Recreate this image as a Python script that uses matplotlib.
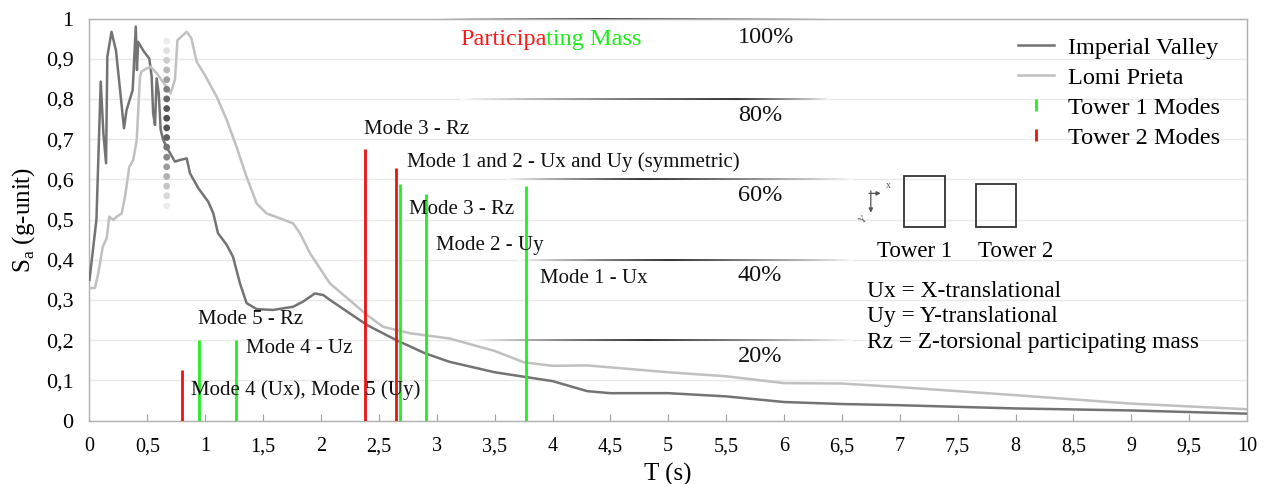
import numpy as np
import matplotlib
matplotlib.use("Agg")
import matplotlib.pyplot as plt
from matplotlib.lines import Line2D
from matplotlib.patches import Rectangle
from matplotlib.collections import LineCollection

plt.rcParams['font.family'] = ['Liberation Serif', 'DejaVu Serif']
plt.rcParams['mathtext.fontset'] = 'custom'
plt.rcParams['mathtext.rm'] = 'Liberation Serif'

# ---------------- data ----------------
iv_T = [0.0, 0.06, 0.097, 0.12, 0.143, 0.154, 0.19, 0.229, 0.298, 0.32, 0.373, 0.40, 0.41,
        0.42, 0.465, 0.517, 0.537, 0.55, 0.566, 0.58, 0.598, 0.615, 0.637, 0.68, 0.738,
        0.78, 0.84, 0.868, 0.94, 1.026, 1.07, 1.11, 1.185, 1.24, 1.30, 1.357, 1.444,
        1.587, 1.76, 1.846, 1.947, 2.02, 2.077, 2.4, 2.65, 2.9, 3.11, 3.5, 4.0, 4.3,
        4.5, 5.0, 5.5, 6.0, 6.5, 7.0, 8.0, 9.0, 10.0]
iv_Sa = [0.35, 0.50, 0.843, 0.714, 0.64, 0.905, 0.967, 0.92, 0.727, 0.772, 0.822, 0.98, 0.872,
         0.942, 0.92, 0.90, 0.855, 0.764, 0.735, 0.851, 0.814, 0.723, 0.698, 0.673, 0.644,
         0.648, 0.652, 0.615, 0.578, 0.544, 0.515, 0.466, 0.437, 0.407, 0.341, 0.292, 0.277,
         0.275, 0.283, 0.296, 0.316, 0.312, 0.30, 0.237, 0.20, 0.167, 0.146, 0.12, 0.098, 0.073,
         0.068, 0.068, 0.06, 0.046, 0.041, 0.038, 0.03, 0.025, 0.017]

lp_T = [0.0, 0.047, 0.076, 0.114, 0.148, 0.171, 0.206, 0.235, 0.278, 0.307, 0.344, 0.378,
        0.408, 0.436, 0.45, 0.494, 0.528, 0.58, 0.652, 0.70, 0.738, 0.76, 0.84, 0.88, 0.925,
        0.997, 1.10, 1.185, 1.27, 1.357, 1.444, 1.53, 1.645, 1.76, 1.818, 1.905, 2.02, 2.077,
        2.4, 2.537, 2.77, 3.11, 3.5, 3.75, 4.0, 4.3, 5.0, 5.5, 6.0, 6.5, 7.0, 8.0, 9.0, 10.0]
lp_Sa = [0.329, 0.33, 0.366, 0.432, 0.453, 0.507, 0.499, 0.507, 0.515, 0.557, 0.631, 0.648,
         0.698, 0.855, 0.868, 0.876, 0.880, 0.864, 0.835, 0.814, 0.847, 0.946, 0.967, 0.951, 0.893,
         0.859, 0.805, 0.748, 0.681, 0.606, 0.54, 0.515, 0.503, 0.49, 0.466, 0.416, 0.366, 0.341,
         0.262, 0.233, 0.217, 0.204, 0.173, 0.145, 0.136, 0.137, 0.12, 0.11, 0.093, 0.092, 0.083,
         0.063, 0.042, 0.028]

tower1_T = [0.946, 1.268, 2.684, 2.903, 3.775]
tower1_Sa = [0.20, 0.20, 0.588, 0.564, 0.583]
tower2_T = [0.80, 2.38, 2.645]
tower2_Sa = [0.125, 0.675, 0.627]

# dotted marker column (period ~0.67 s)
dots_T = 0.667
dots_Sa = [0.944, 0.920, 0.896, 0.872, 0.848, 0.824, 0.800, 0.776, 0.752, 0.728,
           0.704, 0.680, 0.655, 0.631, 0.607, 0.583, 0.559, 0.534]
dots_gray = [0.93, 0.88, 0.80, 0.72, 0.62, 0.50, 0.40, 0.34, 0.31, 0.33,
             0.38, 0.45, 0.53, 0.61, 0.69, 0.77, 0.85, 0.92]

mass_levels = [1.0, 0.8, 0.6, 0.4, 0.2]
mass_labels = ['100%', '80%', '60%', '40%', '20%']
mass_label_y = [0.953, 0.758, 0.56, 0.36, 0.16]

mode_labels = ['Mode 3 - Rz', 'Mode 1 and 2 - Ux and Uy (symmetric)', 'Mode 3 - Rz',
               'Mode 2 - Uy', 'Mode 1 - Ux', 'Mode 5 - Rz', 'Mode 4 - Uz',
               'Mode 4 (Ux), Mode 5 (Uy)']
mode_label_pos = [(2.37, 0.723), (2.74, 0.643), (2.76, 0.524), (2.99, 0.435),
                  (3.89, 0.354), (0.934, 0.252), (1.349, 0.18), (0.874, 0.076)]

x_ticks = [0, 0.5, 1, 1.5, 2, 2.5, 3, 3.5, 4, 4.5, 5, 5.5, 6, 6.5, 7, 7.5, 8, 8.5, 9, 9.5, 10]
y_ticks = [0, 0.1, 0.2, 0.3, 0.4, 0.5, 0.6, 0.7, 0.8, 0.9, 1.0]

def fmt(v):
    return ('%g' % v).replace('.', ',')

# ---------------- figure ----------------
fig = plt.figure(figsize=(12.65, 4.84), dpi=100)
ax = fig.add_axes([89.5 / 1265, 63.5 / 484, 1157.5 / 1265, 402 / 484])
ax.set_xlim(0, 10)
ax.set_ylim(0, 1)

ax.set_yticks(y_ticks)
ax.set_yticklabels([fmt(v) for v in y_ticks])
ax.set_xticks(x_ticks)
ax.set_xticklabels([fmt(v) for v in x_ticks])
ax.tick_params(axis='x', direction='in', length=5, color='#a0a0a0', pad=12, labelsize=14.5)
ax.tick_params(axis='y', length=0, pad=11.5, labelsize=16)
for s in ax.spines.values():
    s.set_color('#b0b0b0')
    s.set_linewidth(1.0)
ax.grid(axis='y', color='#e9e9e9', linewidth=1.0)
ax.set_axisbelow(True)

ax.set_xlabel('T (s)', fontsize=18, labelpad=5)
ax.set_ylabel(r'S$_\mathregular{a}$ (g-unit)', fontsize=18, labelpad=6)

# gradient "participating mass" lines
def grad_line(y, x0, x1, peak, dark=0.2):
    xs = np.linspace(x0, x1, 120)
    segs = [[(xs[i], y), (xs[i + 1], y)] for i in range(len(xs) - 1)]
    cols = []
    for i in range(len(xs) - 1):
        xm = 0.5 * (xs[i] + xs[i + 1])
        if xm < peak:
            t = (xm - x0) / (peak - x0)
        else:
            t = (x1 - xm) / (x1 - peak)
        g = 1 - (1 - dark) * np.clip(t, 0, 1) ** 0.8
        cols.append((g, g, g))
    lc = LineCollection(segs, colors=cols, linewidths=1.4, zorder=2, clip_on=False)
    ax.add_collection(lc)

grad_params = [(3.0, 6.4, 4.4), (3.2, 6.4, 5.6), (3.6, 6.6, 4.8), (3.7, 6.6, 5.0), (3.3, 6.6, 4.8)]
for lvl, (x0, x1, pk) in zip(mass_levels, grad_params):
    grad_line(lvl, x0, x1, pk)
for ly, lab in zip(mass_label_y, mass_labels):
    ax.text(5.6, ly, lab, fontsize=17.5, va='center', ha='left', color='#111111')

t1 = ax.text(3.2, 0.947, 'Participa', color='#ff1a1a', fontsize=17.5, va='center', ha='left')
ax.annotate('ting Mass', xy=(1, 0), xycoords=t1, va='bottom', ha='left',
            color='#1aee1a', fontsize=17.5)

# curves
ax.plot(iv_T, iv_Sa, color='#737373', lw=1.8, zorder=3, label='Imperial Valley')
ax.plot(lp_T, lp_Sa, color='#c0c0c0', lw=1.8, zorder=3, label='Lomi Prieta')

# dots column
ax.scatter([dots_T] * len(dots_Sa), dots_Sa, s=24, c=[(g, g, g) for g in dots_gray],
           zorder=4, linewidths=0)

# mode lines
ax.vlines(tower1_T, 0, tower1_Sa, color='#22ee22', lw=2.0, zorder=5)
ax.vlines(tower2_T, 0, tower2_Sa, color='#ee1111', lw=2.0, zorder=5)

for lab, (x, y) in zip(mode_labels, mode_label_pos):
    ax.text(x, y, lab, fontsize=15, va='center', ha='left', color='#111111', zorder=6)

# tower sketches
ax.add_patch(Rectangle((7.04, 0.482), 0.35, 0.127, fill=False, ec='#333333', lw=1.3))
ax.add_patch(Rectangle((7.655, 0.482), 0.345, 0.106, fill=False, ec='#333333', lw=1.3))
ax.text(7.13, 0.42, 'Tower 1', fontsize=16.5, ha='center', va='center')
ax.text(8.0, 0.42, 'Tower 2', fontsize=16.5, ha='center', va='center')
ax.annotate('', xy=(6.86, 0.565), xytext=(6.71, 0.565),
            arrowprops=dict(arrowstyle='-|>', color='#555555', lw=0.9, mutation_scale=6))
ax.annotate('', xy=(6.75, 0.51), xytext=(6.75, 0.578),
            arrowprops=dict(arrowstyle='-|>', color='#555555', lw=0.9, mutation_scale=6))
ax.text(6.9, 0.585, 'x', fontsize=7, color='#555555', ha='center', va='center')
ax.text(6.69, 0.5, 'Y', fontsize=7, color='#555555', ha='center', va='center', rotation=45)

ax.text(6.72, 0.348, 'Ux = X-translational\nUy = Y-translational\nRz = Z-torsional participating mass',
        fontsize=16.8, ha='left', va='top', linespacing=1.28)

# legend
handles = [Line2D([], [], color='#737373', lw=1.8),
           Line2D([], [], color='#c0c0c0', lw=1.8),
           Line2D([], [], color='#22ee22', marker='|', ls='none', markersize=9, mew=2),
           Line2D([], [], color='#ee1111', marker='|', ls='none', markersize=9, mew=2)]
labels = ['Imperial Valley', 'Lomi Prieta', 'Tower 1 Modes', 'Tower 2 Modes']
ax.legend(handles, labels, loc='upper left', bbox_to_anchor=((1018 - 89.5) / 1157.5, 0.955),
          frameon=False, fontsize=17.5, borderpad=0, borderaxespad=0, handlelength=1.5,
          handletextpad=0.55, labelspacing=0.33)

fig.savefig('out.png', dpi=100)
